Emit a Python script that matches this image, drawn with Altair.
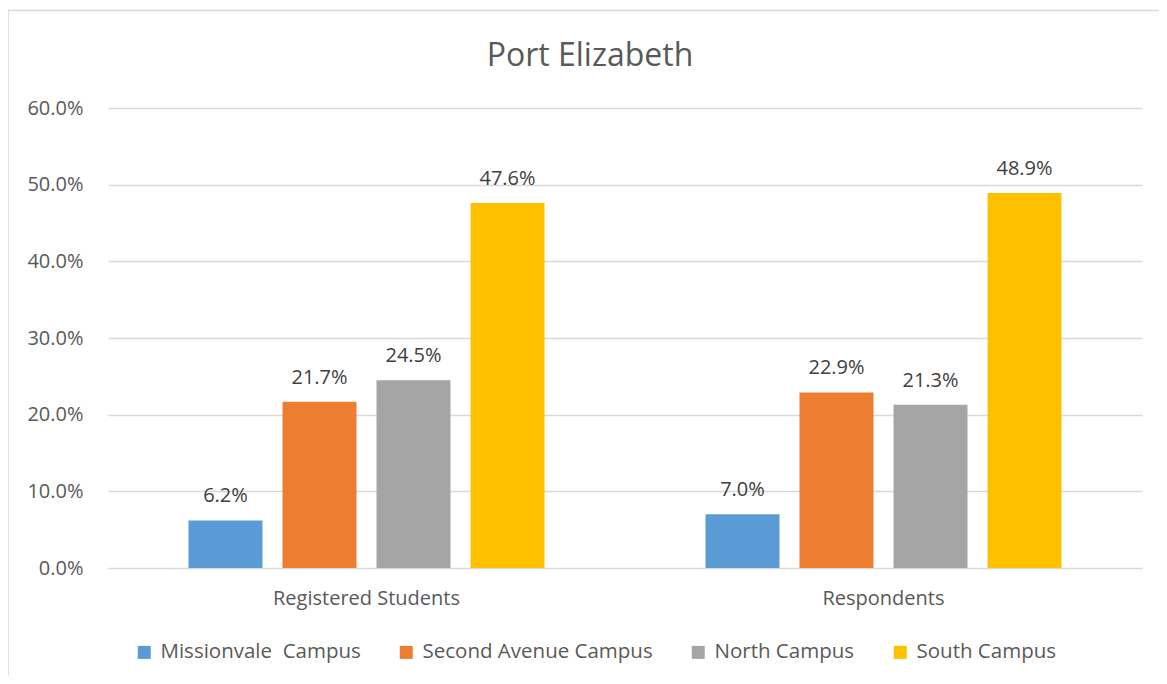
import altair as alt
import pandas as pd

groups = ["Registered Students", "Respondents"]
campuses = ["Missionvale\u00a0 Campus", "Second Avenue Campus", "North Campus", "South Campus"]
registered = [0.062, 0.217, 0.245, 0.476]
respondents = [0.070, 0.229, 0.213, 0.489]
colors = ["#5B9BD5", "#ED7D31", "#A5A5A5", "#FFC000"]

rows = []
for g, vals in zip(groups, [registered, respondents]):
    for c, v in zip(campuses, vals):
        rows.append({"group": g, "campus": c, "value": v})
df = pd.DataFrame(rows)

FONT = "Open Sans"

x = alt.X("group:N", sort=groups, title=None,
          scale=alt.Scale(paddingInner=0, paddingOuter=0),
          axis=alt.Axis(labelAngle=0, ticks=False, domain=False, labelPadding=20,
                        labelFontSize=20, labelColor="#595959", labelFont=FONT,
                        labelLimit=500))
xo = alt.XOffset("campus:N", sort=campuses,
                 scale=alt.Scale(paddingInner=0.213, paddingOuter=0.856))
y = alt.Y("value:Q", title=None,
          scale=alt.Scale(domain=[0, 0.6]),
          axis=alt.Axis(format=".1%", values=[0, 0.1, 0.2, 0.3, 0.4, 0.5, 0.6],
                        ticks=False, domain=False, labelPadding=25,
                        labelFontSize=20, labelColor="#595959", labelFont=FONT,
                        gridColor="#D9D9D9", gridWidth=1.3))

base = alt.Chart(df)

bars = base.mark_bar().encode(
    x=x, xOffset=xo, y=y,
    color=alt.Color("campus:N", sort=campuses, title=None,
                    scale=alt.Scale(domain=campuses, range=colors),
                    legend=alt.Legend(orient="none", direction="horizontal",
                                      legendX=26, legendY=534,
                                      symbolType="square", symbolSize=169,
                                      symbolStrokeWidth=0, labelOffset=6,
                                      columnPadding=35, labelFontSize=20.5,
                                      labelColor="#595959", labelFont=FONT,
                                      labelLimit=400)),
)

labels = base.mark_text(baseline="alphabetic", dy=-18, fontSize=20,
                        color="#404040", font=FONT).encode(
    x=x, xOffset=xo, y=y,
    text=alt.Text("value:Q", format=".1%"),
)

frame_df = pd.DataFrame({"k": [0]})
frame = alt.Chart(frame_df).mark_rect(fill=None, stroke="#D9D9D9", strokeWidth=1.5).encode(
    x=alt.value(-100), x2=alt.value(1100), y=alt.value(-97.5), y2=alt.value(700)
)

chart = alt.layer(frame, bars, labels).properties(
    width=1034, height=460,
    autosize=alt.AutoSizeParams(type="none"),
    padding={"left": 100, "top": 100, "right": 17, "bottom": 108},
    title=alt.TitleParams("Port Elizabeth", fontSize=32, font=FONT, fontWeight="normal",
                          color="#595959", anchor="middle", dx=-35, frame="group",
                          baseline="alphabetic", offset=-88.5),
).configure_view(stroke=None).configure_axis(grid=True).configure_axisX(grid=False)

chart.save("out.html", embed_options={"renderer": "svg", "actions": False})
